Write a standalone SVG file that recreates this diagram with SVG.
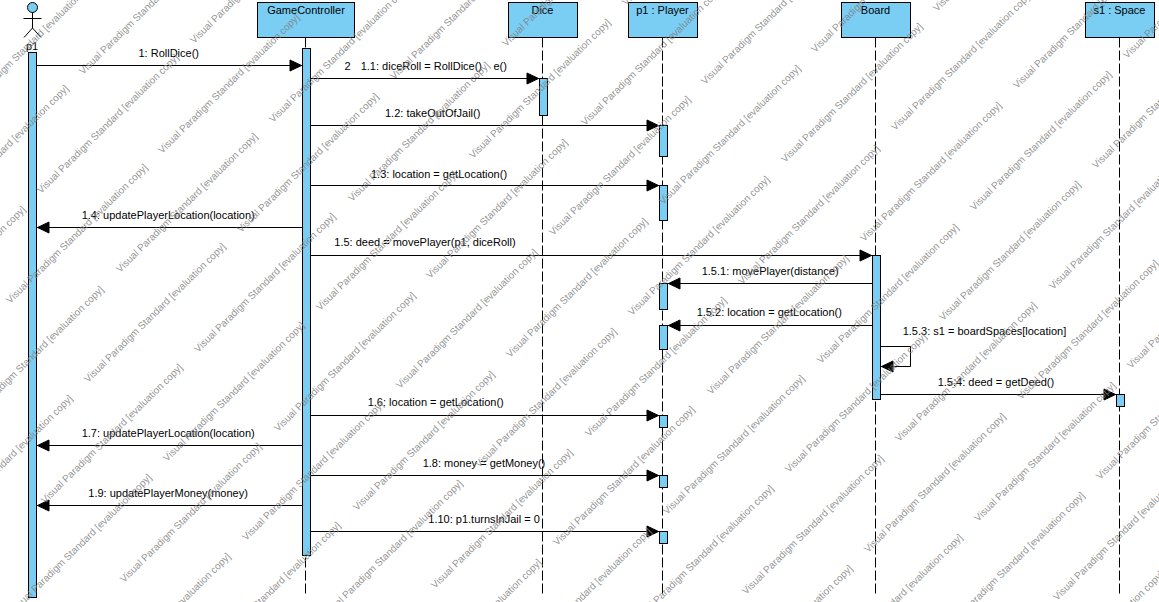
<svg xmlns="http://www.w3.org/2000/svg" width="1159" height="602" viewBox="0 0 1159 602">
<style>
text{font-family:"Liberation Sans",Arial,sans-serif;font-size:11px;fill:#000}
.box,.act,.head{fill:#7acef4;stroke:#000;stroke-width:1}
.stem{fill:none;stroke:#000;stroke-width:1}
.life{fill:none;stroke:#000;stroke-width:1;stroke-dasharray:10 3}
.msg{fill:none;stroke:#000;stroke-width:1;marker-end:url(#arrow)}
.c{text-anchor:middle}
.wm text{font-size:10px;fill:#808080;fill-opacity:.85}
</style>
<defs>
<marker id="arrow" markerUnits="userSpaceOnUse" markerWidth="14" markerHeight="14" viewBox="0 0 14 14" refX="13.5" refY="7" orient="auto"><path d="M1 1.5L12.5 7L1 12.5Z" fill="#000" stroke="#000" stroke-width="1"/></marker>
</defs>
<rect width="1159" height="602" fill="#fff"/>
<g id="node-p1">
<circle class="head" cx="32.5" cy="7.5" r="5"/>
<path class="stem" d="M32.5 12.5V28M23.5 18.5H41.5M24 37.5L32.5 28L41 37.5"/>
<text class="c" x="32" y="50">p1</text>
<rect class="act" x="28.5" y="52.5" width="8" height="545"/>
</g>
<g id="node-gamecontroller">
<rect class="box" x="257.5" y="2.5" width="97" height="35"/>
<text class="c" x="306" y="14">GameController</text>
<path class="life" d="M305.5 37.5V596"/>
<rect class="act" x="302.5" y="48.5" width="8" height="507"/>
</g>
<g id="node-dice">
<rect class="box" x="508.5" y="2.5" width="69" height="35"/>
<text class="c" x="542.5" y="14">Dice</text>
<path class="life" d="M542.5 37.5V596"/>
<rect class="act" x="539.5" y="78.5" width="8" height="37"/>
</g>
<g id="node-player">
<rect class="box" x="628.5" y="2.5" width="69" height="35"/>
<text class="c" x="662.5" y="14">p1 : Player</text>
<path class="life" d="M662.5 37.5V596"/>
<rect class="act" x="659.5" y="125.5" width="8" height="31"/>
<rect class="act" x="659.5" y="185.5" width="8" height="35"/>
<rect class="act" x="659.5" y="283.5" width="8" height="26"/>
<rect class="act" x="659.5" y="325.5" width="8" height="24"/>
<rect class="act" x="659.5" y="415.5" width="8" height="12"/>
<rect class="act" x="659.5" y="475.5" width="8" height="12"/>
<rect class="act" x="659.5" y="531.5" width="8" height="12"/>
</g>
<g id="node-board">
<rect class="box" x="841.5" y="2.5" width="69" height="35"/>
<text class="c" x="875.5" y="14">Board</text>
<path class="life" d="M875.5 37.5V596"/>
<rect class="act" x="872.5" y="255.5" width="8" height="144"/>
</g>
<g id="node-space">
<rect class="box" x="1085.5" y="2.5" width="69" height="35"/>
<text class="c" x="1119.5" y="14">s1 : Space</text>
<path class="life" d="M1119.5 37.5V596"/>
<rect class="act" x="1116.5" y="394.5" width="8" height="12"/>
</g>
<g id="connectors">
<path class="msg" d="M36.5 65.5H302.5"/><text x="138.5" y="57">1: RollDice()</text>
<path class="msg" d="M310.5 78.5H539.5"/><text x="344.5" y="70">2</text><text x="360.7" y="70">1.1: diceRoll = RollDice()</text><text x="493.5" y="70">e()</text>
<path class="msg" d="M310.5 125.5H659.5"/><text x="385" y="117">1.2: takeOutOfJail()</text>
<path class="msg" d="M310.5 185.5H659.5"/><text x="371" y="177.5">1.3: location = getLocation()</text>
<path class="msg" d="M302.5 227.5H36.5"/><text x="81.7" y="218.5">1.4: updatePlayerLocation(location)</text>
<path class="msg" d="M310.5 255.5H872.5"/><text x="334.3" y="245.7">1.5: deed = movePlayer(p1, diceRoll)</text>
<path class="msg" d="M872.5 283.5H667.5"/><text x="701.7" y="274.7">1.5.1: movePlayer(distance)</text>
<path class="msg" d="M872.5 325.5H667.5"/><text x="696.7" y="316">1.5.2: location = getLocation()</text>
<path class="msg" d="M880.5 346.5H910.5V366.5H880.5"/><text x="902.7" y="335">1.5.3: s1 = boardSpaces[location]</text>
<path class="msg" d="M880.5 394.5H1116.5"/><text x="937.7" y="385.7">1.5.4: deed = getDeed()</text>
<path class="msg" d="M310.5 415.5H659.5"/><text x="367.7" y="406">1.6: location = getLocation()</text>
<path class="msg" d="M302.5 445.5H36.5"/><text x="81.7" y="436.7">1.7: updatePlayerLocation(location)</text>
<path class="msg" d="M310.5 475.5H659.5"/><text x="422.7" y="466.7">1.8: money = getMoney()</text>
<path class="msg" d="M302.5 505.5H36.5"/><text x="88.3" y="497.3">1.9: updatePlayerMoney(money)</text>
<path class="msg" d="M310.5 531.5H659.5"/><text x="428.3" y="522.7">1.10: p1.turnsInJail = 0</text>
</g>
<g id="watermark" class="wm" transform="translate(3 1)">
<text transform="translate(-41 114) rotate(-44.5)">Visual Paradigm Standard [evaluation copy]</text>
<text transform="translate(80 74) rotate(-44.5)">Visual Paradigm Standard [evaluation copy]</text>
<text transform="translate(191 43) rotate(-44.5)">Visual Paradigm Standard [evaluation copy]</text>
<text transform="translate(312 0) rotate(-44.5)">Visual Paradigm Standard [evaluation copy]</text>
<text transform="translate(-72 224) rotate(-44.5)">Visual Paradigm Standard [evaluation copy]</text>
<text transform="translate(38 193) rotate(-44.5)">Visual Paradigm Standard [evaluation copy]</text>
<text transform="translate(159 153) rotate(-44.5)">Visual Paradigm Standard [evaluation copy]</text>
<text transform="translate(270 122) rotate(-44.5)">Visual Paradigm Standard [evaluation copy]</text>
<text transform="translate(391 79) rotate(-44.5)">Visual Paradigm Standard [evaluation copy]</text>
<text transform="translate(503 46) rotate(-44.5)">Visual Paradigm Standard [evaluation copy]</text>
<text transform="translate(623 5) rotate(-44.5)">Visual Paradigm Standard [evaluation copy]</text>
<text transform="translate(-115 345) rotate(-44.5)">Visual Paradigm Standard [evaluation copy]</text>
<text transform="translate(7 303) rotate(-44.5)">Visual Paradigm Standard [evaluation copy]</text>
<text transform="translate(117 272) rotate(-44.5)">Visual Paradigm Standard [evaluation copy]</text>
<text transform="translate(238 232) rotate(-44.5)">Visual Paradigm Standard [evaluation copy]</text>
<text transform="translate(349 201) rotate(-44.5)">Visual Paradigm Standard [evaluation copy]</text>
<text transform="translate(470 158) rotate(-44.5)">Visual Paradigm Standard [evaluation copy]</text>
<text transform="translate(582 125) rotate(-44.5)">Visual Paradigm Standard [evaluation copy]</text>
<text transform="translate(702 84) rotate(-44.5)">Visual Paradigm Standard [evaluation copy]</text>
<text transform="translate(812 52) rotate(-44.5)">Visual Paradigm Standard [evaluation copy]</text>
<text transform="translate(934 11) rotate(-44.5)">Visual Paradigm Standard [evaluation copy]</text>
<text transform="translate(-37 425) rotate(-44.5)">Visual Paradigm Standard [evaluation copy]</text>
<text transform="translate(85 382) rotate(-44.5)">Visual Paradigm Standard [evaluation copy]</text>
<text transform="translate(195 352) rotate(-44.5)">Visual Paradigm Standard [evaluation copy]</text>
<text transform="translate(317 310) rotate(-44.5)">Visual Paradigm Standard [evaluation copy]</text>
<text transform="translate(427 278) rotate(-44.5)">Visual Paradigm Standard [evaluation copy]</text>
<text transform="translate(550 235) rotate(-44.5)">Visual Paradigm Standard [evaluation copy]</text>
<text transform="translate(660 204) rotate(-44.5)">Visual Paradigm Standard [evaluation copy]</text>
<text transform="translate(782 162) rotate(-44.5)">Visual Paradigm Standard [evaluation copy]</text>
<text transform="translate(892 130) rotate(-44.5)">Visual Paradigm Standard [evaluation copy]</text>
<text transform="translate(1014 88) rotate(-44.5)">Visual Paradigm Standard [evaluation copy]</text>
<text transform="translate(1124 58) rotate(-44.5)">Visual Paradigm Standard [evaluation copy]</text>
<text transform="translate(-68 534) rotate(-44.5)">Visual Paradigm Standard [evaluation copy]</text>
<text transform="translate(42 503) rotate(-44.5)">Visual Paradigm Standard [evaluation copy]</text>
<text transform="translate(164 461) rotate(-44.5)">Visual Paradigm Standard [evaluation copy]</text>
<text transform="translate(275 431) rotate(-44.5)">Visual Paradigm Standard [evaluation copy]</text>
<text transform="translate(397 388) rotate(-44.5)">Visual Paradigm Standard [evaluation copy]</text>
<text transform="translate(507 357) rotate(-44.5)">Visual Paradigm Standard [evaluation copy]</text>
<text transform="translate(629 315) rotate(-44.5)">Visual Paradigm Standard [evaluation copy]</text>
<text transform="translate(739 284) rotate(-44.5)">Visual Paradigm Standard [evaluation copy]</text>
<text transform="translate(861 241) rotate(-44.5)">Visual Paradigm Standard [evaluation copy]</text>
<text transform="translate(971 210) rotate(-44.5)">Visual Paradigm Standard [evaluation copy]</text>
<text transform="translate(1093 168) rotate(-44.5)">Visual Paradigm Standard [evaluation copy]</text>
<text transform="translate(11 613) rotate(-44.5)">Visual Paradigm Standard [evaluation copy]</text>
<text transform="translate(121 582) rotate(-44.5)">Visual Paradigm Standard [evaluation copy]</text>
<text transform="translate(243 540) rotate(-44.5)">Visual Paradigm Standard [evaluation copy]</text>
<text transform="translate(354 510) rotate(-44.5)">Visual Paradigm Standard [evaluation copy]</text>
<text transform="translate(476 467) rotate(-44.5)">Visual Paradigm Standard [evaluation copy]</text>
<text transform="translate(586 436) rotate(-44.5)">Visual Paradigm Standard [evaluation copy]</text>
<text transform="translate(708 394) rotate(-44.5)">Visual Paradigm Standard [evaluation copy]</text>
<text transform="translate(818 363) rotate(-44.5)">Visual Paradigm Standard [evaluation copy]</text>
<text transform="translate(940 320) rotate(-44.5)">Visual Paradigm Standard [evaluation copy]</text>
<text transform="translate(1050 289) rotate(-44.5)">Visual Paradigm Standard [evaluation copy]</text>
<text transform="translate(90 692) rotate(-44.5)">Visual Paradigm Standard [evaluation copy]</text>
<text transform="translate(200 661) rotate(-44.5)">Visual Paradigm Standard [evaluation copy]</text>
<text transform="translate(322 619) rotate(-44.5)">Visual Paradigm Standard [evaluation copy]</text>
<text transform="translate(432 588) rotate(-44.5)">Visual Paradigm Standard [evaluation copy]</text>
<text transform="translate(554 545) rotate(-44.5)">Visual Paradigm Standard [evaluation copy]</text>
<text transform="translate(664 514) rotate(-44.5)">Visual Paradigm Standard [evaluation copy]</text>
<text transform="translate(786 472) rotate(-44.5)">Visual Paradigm Standard [evaluation copy]</text>
<text transform="translate(896 441) rotate(-44.5)">Visual Paradigm Standard [evaluation copy]</text>
<text transform="translate(1018 399) rotate(-44.5)">Visual Paradigm Standard [evaluation copy]</text>
<text transform="translate(1128 368) rotate(-44.5)">Visual Paradigm Standard [evaluation copy]</text>
<text transform="translate(401 698) rotate(-44.5)">Visual Paradigm Standard [evaluation copy]</text>
<text transform="translate(511 667) rotate(-44.5)">Visual Paradigm Standard [evaluation copy]</text>
<text transform="translate(633 624) rotate(-44.5)">Visual Paradigm Standard [evaluation copy]</text>
<text transform="translate(743 594) rotate(-44.5)">Visual Paradigm Standard [evaluation copy]</text>
<text transform="translate(865 552) rotate(-44.5)">Visual Paradigm Standard [evaluation copy]</text>
<text transform="translate(975 521) rotate(-44.5)">Visual Paradigm Standard [evaluation copy]</text>
<text transform="translate(1097 479) rotate(-44.5)">Visual Paradigm Standard [evaluation copy]</text>
<text transform="translate(712 704) rotate(-44.5)">Visual Paradigm Standard [evaluation copy]</text>
<text transform="translate(822 673) rotate(-44.5)">Visual Paradigm Standard [evaluation copy]</text>
<text transform="translate(944 631) rotate(-44.5)">Visual Paradigm Standard [evaluation copy]</text>
<text transform="translate(1054 600) rotate(-44.5)">Visual Paradigm Standard [evaluation copy]</text>
<text transform="translate(1023 710) rotate(-44.5)">Visual Paradigm Standard [evaluation copy]</text>
</g>
</svg>
